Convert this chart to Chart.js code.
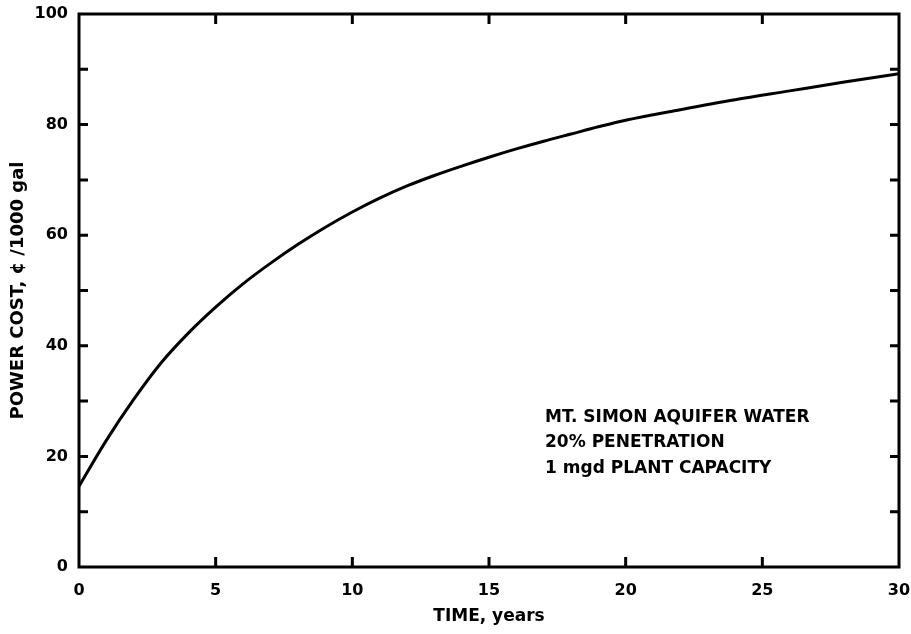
<!DOCTYPE html>
<html>
<head>
<meta charset="utf-8">
<script src="https://cdn.jsdelivr.net/npm/chart.js@4"></script>
<style>
  html, body { margin: 0; padding: 0; background: #fff; }
  #wrap { width: 911px; height: 634px; }
</style>
</head>
<body>
<div id="wrap"><canvas id="myChart"></canvas></div>
<script>
const years = [0, 1, 2, 3, 4, 5, 6, 7, 8, 9, 10, 11, 12, 13, 14, 15, 16, 17, 18, 19, 20, 22, 24, 26, 28, 30];
const powerCost = [14.6, 22.9, 30.3, 36.9, 42.3, 47.0, 51.2, 54.9, 58.3, 61.4, 64.2, 66.7, 68.9, 70.8, 72.5, 74.1, 75.6, 77.0, 78.3, 79.6, 80.8, 82.7, 84.5, 86.1, 87.7, 89.2];

const xTicks = [0, 5, 10, 15, 20, 25, 30];
const yTicks = [0, 20, 40, 60, 80, 100];
const yMinorTicks = [10, 30, 50, 70, 90];

const noteLines = ['MT. SIMON AQUIFER WATER', '20% PENETRATION', '1 mgd PLANT CAPACITY'];

const FONT = '"DejaVu Sans", Verdana, sans-serif';

// no extra room for labels hanging past the plot ends
const noOverhang = s => {
  s.paddingTop = 0; s.paddingBottom = 0; s.paddingLeft = 0; s.paddingRight = 0;
};

// frame round the plot, inward tick marks and the text note
const framePlugin = {
  id: 'frame',
  afterDraw(chart) {
    const { ctx, chartArea: a, scales } = chart;
    const x = scales.x, y = scales.y;
    ctx.save();
    ctx.strokeStyle = '#000';
    ctx.lineWidth = 3;
    ctx.strokeRect(a.left, a.top, a.right - a.left, a.bottom - a.top);

    ctx.beginPath();
    [...yTicks, ...yMinorTicks].forEach(v => {
      if (v === 0 || v === 100) return;
      const py = y.getPixelForValue(v);
      ctx.moveTo(a.left, py); ctx.lineTo(a.left + 9, py);
      ctx.moveTo(a.right, py); ctx.lineTo(a.right - 9, py);
    });
    xTicks.forEach(v => {
      if (v === 0 || v === 30) return;
      const px = x.getPixelForValue(v);
      ctx.moveTo(px, a.bottom); ctx.lineTo(px, a.bottom - 10);
      ctx.moveTo(px, a.top); ctx.lineTo(px, a.top + 10);
    });
    ctx.stroke();

    ctx.fillStyle = '#000';
    ctx.font = 'bold 17px ' + FONT;
    ctx.textBaseline = 'alphabetic';
    ctx.textAlign = 'left';
    const tx = x.getPixelForValue(17.05);
    const ty = y.getPixelForValue(26.3);
    noteLines.forEach((t, i) => ctx.fillText(t, tx, ty + i * 25.5));
    ctx.restore();
  }
};

const ctx = document.getElementById('myChart');

new Chart(ctx, {
  type: 'line',
  data: {
    datasets: [{
      data: years.map((t, i) => ({ x: t, y: powerCost[i] })),
      borderColor: '#000',
      borderWidth: 3,
      pointRadius: 0,
      cubicInterpolationMode: 'monotone',
      fill: false
    }]
  },
  options: {
    responsive: true,
    maintainAspectRatio: false,
    animation: false,
    layout: { padding: { top: 14, right: 12, left: 0, bottom: 0 } },
    plugins: {
      legend: { display: false },
      tooltip: { enabled: false }
    },
    scales: {
      x: {
        type: 'linear',
        min: 0,
        max: 30,
        afterBuildTicks: s => { s.ticks = xTicks.map(v => ({ value: v })); },
        afterFit: s => { s.height = 67; noOverhang(s); },
        grid: { display: false, drawTicks: false },
        border: { display: false },
        ticks: { color: '#000', padding: 14, font: { family: FONT, size: 16, weight: 'bold' } },
        title: {
          display: true,
          text: 'TIME, years',
          color: '#000',
          font: { family: FONT, size: 17, weight: 'bold' },
          padding: { top: 0, bottom: 7 }
        }
      },
      y: {
        min: 0,
        max: 100,
        afterBuildTicks: s => { s.ticks = yTicks.map(v => ({ value: v })); },
        afterFit: s => { s.width = 79; noOverhang(s); },
        grid: { display: false, drawTicks: false },
        border: { display: false },
        ticks: { color: '#000', padding: 11, font: { family: FONT, size: 16, weight: 'bold' } },
        title: {
          display: true,
          text: 'POWER COST, ¢ /1000 gal',
          color: '#000',
          font: { family: FONT, size: 18, weight: 'bold' },
          padding: { top: 8, bottom: 0 }
        }
      }
    }
  },
  plugins: [framePlugin]
});
</script>
</body>
</html>
